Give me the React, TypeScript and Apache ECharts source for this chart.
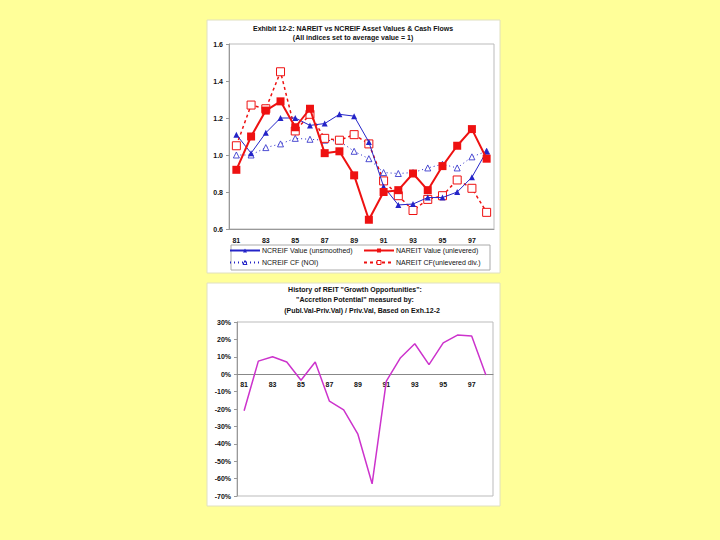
import React, { useEffect, useRef } from "react";
import * as echarts from "echarts";

const years = ["81","82","83","84","85","86","87","88","89","90","91","92","93","94","95","96","97","98"];
const ncreifValue = [1.11, 1.01, 1.12, 1.2, 1.2, 1.16, 1.17, 1.22, 1.21, 1.07, 0.83, 0.73, 0.735, 0.77, 0.77, 0.8, 0.88, 1.02];
const nareitValue = [0.92, 1.1, 1.24, 1.29, 1.15, 1.25, 1.01, 1.02, 0.89, 0.65, 0.8, 0.81, 0.9, 0.81, 0.94, 1.05, 1.14, 0.98];
const ncreifCF = [1.0, 1.0, 1.04, 1.06, 1.09, 1.085, 1.08, 1.075, 1.02, 0.98, 0.905, 0.9, 0.905, 0.93, 0.95, 0.93, 0.99, 1.02];
const nareitCF = [1.05, 1.27, 1.25, 1.45, 1.13, 1.22, 1.09, 1.08, 1.11, 1.06, 0.86, 0.78, 0.7, 0.76, 0.78, 0.865, 0.82, 0.69];
const accretion = [-21, 7.5, 10, 7, -3.5, 7, -15.5, -20.5, -34.5, -63, -4, 9.5, 17.5, 5.5, 18, 22.5, 22, -0.5];

const topTitle = ["Exhibit 12-2: NAREIT vs NCREIF Asset Values & Cash Flows", "(All indices set to average value = 1)"];
const bottomTitle = [
  'History of REIT "Growth Opportunities":',
  '"Accretion Potential" measured by:',
  "(Publ.Val-Priv.Val) / Priv.Val, Based on Exh.12-2",
];
const seriesNames = ["NCREIF Value (unsmoothed)", "NAREIT Value (unlevered)", "NCREIF CF (NOI)", "NAREIT CF(unlevered div.)"];

const FONT = "Liberation Sans";
const BLUE = "#2424c8";
const RED = "#ee1111";
const MAGENTA = "#cc33cc";

const BOTTOM_MIN = -70;
const BOTTOM_MAX = 30;
const BOTTOM_TOP = 322;
const BOTTOM_H = 174;

export default function App() {
  const ref = useRef<HTMLDivElement>(null);
  useEffect(() => {
    if (!ref.current) return;
    const chart = echarts.init(ref.current, undefined, { renderer: "svg" });
    const txt = (text: string, x: number, y: number) => ({
      type: "text",
      x,
      y,
      style: { text, fill: "#111", fontSize: 7, fontWeight: "bold", fontFamily: FONT, align: "center", verticalAlign: "middle" },
    });
    const labelStyle = { fontSize: 7, fontWeight: "bold", fontFamily: FONT, color: "#111" };
    const zeroOffset = -(BOTTOM_H * (0 - BOTTOM_MIN)) / (BOTTOM_MAX - BOTTOM_MIN);
    const legendCommon = {
      orient: "vertical",
      top: 247,
      itemWidth: 30,
      itemHeight: 5,
      itemGap: 5,
      padding: 0,
      itemStyle: { borderWidth: 1 },
      textStyle: { fontSize: 7, fontFamily: FONT, color: "#111", padding: [0, 0, 0, -3] },
    };
    chart.setOption({
      animation: false,
      backgroundColor: "#ffff99",
      textStyle: { fontFamily: FONT },
      graphic: [
        { type: "rect", shape: { x: 207, y: 20, width: 293, height: 253 }, style: { fill: "#fff", stroke: "#e0e0c0", lineWidth: 1 }, z: -10 },
        { type: "rect", shape: { x: 207, y: 283, width: 293, height: 223 }, style: { fill: "#fff", stroke: "#e0e0c0", lineWidth: 1 }, z: -10 },
        { type: "rect", shape: { x: 231, y: 245, width: 259, height: 25 }, style: { fill: "#fff", stroke: "#aaa", lineWidth: 1 }, z: -5 },
        txt(topTitle[0], 353, 28),
        txt(topTitle[1], 353, 37),
        txt(bottomTitle[0], 355, 289),
        txt(bottomTitle[1], 355, 299),
        txt(bottomTitle[2], 362, 310),
      ],
      legend: [
        { ...legendCommon, left: 229, data: [seriesNames[0], seriesNames[2]] },
        { ...legendCommon, left: 363, data: [seriesNames[1], seriesNames[3]] },
      ],
      grid: [
        { left: 229, top: 44, width: 265, height: 185, show: true, borderColor: "#bbb", borderWidth: 1, backgroundColor: "transparent" },
        { left: 237, top: BOTTOM_TOP, width: 256, height: BOTTOM_H, show: true, borderColor: "#bbb", borderWidth: 1, backgroundColor: "transparent" },
      ],
      xAxis: [
        {
          type: "category",
          gridIndex: 0,
          data: years,
          boundaryGap: true,
          axisLine: { lineStyle: { color: "#999" } },
          axisTick: { show: false },
          axisLabel: { ...labelStyle, interval: 1, margin: 8 },
        },
        {
          type: "category",
          gridIndex: 1,
          data: years,
          boundaryGap: true,
          position: "bottom",
          offset: zeroOffset,
          axisLine: { onZero: false, lineStyle: { color: "#888" } },
          axisTick: { show: false },
          axisLabel: { ...labelStyle, interval: 1, margin: 7 },
        },
      ],
      yAxis: [
        {
          type: "value",
          gridIndex: 0,
          min: 0.6,
          max: 1.6,
          interval: 0.2,
          splitLine: { show: false },
          axisLine: { show: true, lineStyle: { color: "#999" } },
          axisTick: { show: true, length: 3, lineStyle: { color: "#999" } },
          axisLabel: { ...labelStyle, margin: 6, formatter: (v: number) => v.toFixed(1) },
        },
        {
          type: "value",
          gridIndex: 1,
          min: BOTTOM_MIN,
          max: BOTTOM_MAX,
          interval: 10,
          splitLine: { show: false },
          axisLine: { show: true, lineStyle: { color: "#999" } },
          axisTick: { show: true, length: 3, lineStyle: { color: "#999" } },
          axisLabel: { ...labelStyle, margin: 6, formatter: "{value}%" },
        },
      ],
      series: [
        {
          name: seriesNames[0],
          type: "line",
          xAxisIndex: 0,
          yAxisIndex: 0,
          data: ncreifValue,
          symbol: "triangle",
          symbolSize: 6,
          lineStyle: { color: BLUE, width: 1 },
          itemStyle: { color: BLUE },
          z: 3,
        },
        {
          name: seriesNames[1],
          type: "line",
          xAxisIndex: 0,
          yAxisIndex: 0,
          data: nareitValue,
          symbol: "rect",
          symbolSize: 8,
          lineStyle: { color: RED, width: 2 },
          itemStyle: { color: RED },
          z: 4,
        },
        {
          name: seriesNames[2],
          type: "line",
          xAxisIndex: 0,
          yAxisIndex: 0,
          data: ncreifCF,
          symbol: "triangle",
          symbolSize: 6,
          lineStyle: { color: BLUE, width: 1, type: [1, 3] },
          itemStyle: { color: "#fff", borderColor: BLUE, borderWidth: 0.8 },
          z: 2,
        },
        {
          name: seriesNames[3],
          type: "line",
          xAxisIndex: 0,
          yAxisIndex: 0,
          data: nareitCF,
          symbol: "rect",
          symbolSize: 8,
          lineStyle: { color: RED, width: 1.5, type: [3, 3] },
          itemStyle: { color: "#fff", borderColor: RED, borderWidth: 1 },
          z: 2,
        },
        {
          name: "Accretion",
          type: "line",
          xAxisIndex: 1,
          yAxisIndex: 1,
          data: accretion,
          symbol: "none",
          lineStyle: { color: MAGENTA, width: 1.5 },
        },
      ],
    });
    return () => chart.dispose();
  }, []);
  return <div ref={ref} style={{ position: "fixed", left: 0, top: 0, width: 720, height: 540 }} />;
}
